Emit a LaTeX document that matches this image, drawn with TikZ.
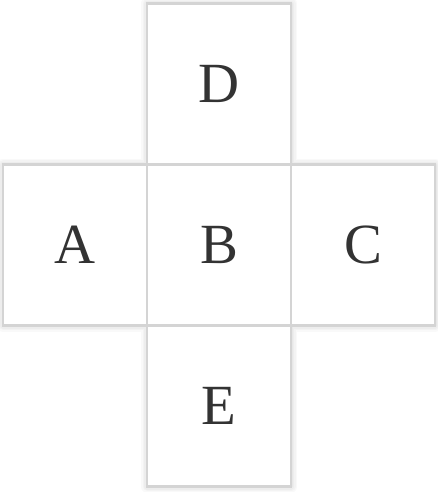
\documentclass[tikz,border=0pt]{standalone}
\usepackage{fontspec}
\setmainfont{Liberation Serif}
\usepackage{xcolor}
\usepackage{tikz}
\usetikzlibrary{positioning, backgrounds}

\definecolor{edgegray}{HTML}{D4D4D4}
\definecolor{textgray}{HTML}{333333}

\begin{document}
\begin{tikzpicture}[node distance=0pt, every node/.style={font=\fontsize{57}{62}\selectfont, text=textgray}]
    % Styles
    \tikzstyle{face} = [rectangle, draw=edgegray, fill=white, line width=2.4bp, outer sep=0pt, minimum width=144bp, minimum height=161bp, align=center]

    \useasboundingbox (0,0) rectangle (438bp,-492bp);

    % Faces
    \node[face] (b) at (219bp,-245bp) {B};
    \node[face, left=of b] (a) {A};
    \node[face, right=of b] (c) {C};
    \node[face, above=of b] (d) {D};
    \node[face, below=of b] (e) {E};

    % Soft shadow
    \begin{scope}[on background layer]
        \foreach \w in {3,6,9,12}
            \draw[black, opacity=0.025, line width=\w bp, line join=round, yshift=-2bp]
                (d.north west) -- (d.north east) -- (d.south east) -- (c.north east)
                -- (c.south east) -- (c.south west) -- (e.south east) -- (e.south west)
                -- (e.north west) -- (a.south west) -- (a.north west) -- (d.south west) -- cycle;
    \end{scope}
\end{tikzpicture}
\end{document}
